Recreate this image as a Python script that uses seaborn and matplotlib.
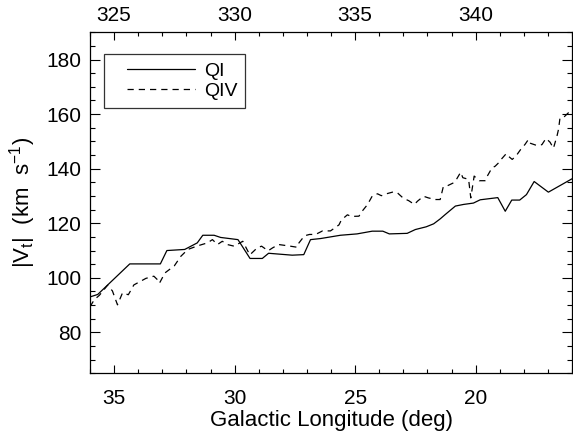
import numpy as np
import pandas as pd
import matplotlib
matplotlib.use("Agg")
import matplotlib.pyplot as plt
from matplotlib.ticker import MultipleLocator
from matplotlib.legend_handler import HandlerLine2D
import seaborn as sns

# Galactic longitude (deg) and tangent velocity |V_t| (km/s) for the two quadrants
l_qi = [36.0, 35.68, 34.35, 33.08, 32.81, 32.07, 31.55, 31.32, 30.85, 30.58,
        29.86, 29.36, 28.85, 28.59, 27.61, 27.13, 26.85, 26.43, 25.61, 24.92,
        24.29, 23.85, 23.58, 22.84, 22.50, 22.05, 21.74, 21.47, 21.26, 20.84,
        20.50, 20.09, 19.81, 19.08, 18.77, 18.50, 18.17, 17.89, 17.57, 16.98,
        16.0]
v_qi = [93.0, 93.9, 105.1, 105.1, 110.0, 110.4, 112.8, 115.6, 115.6, 114.8,
        114.0, 107.1, 107.1, 109.0, 108.3, 108.5, 114.0, 114.4, 115.6, 116.1,
        117.1, 117.1, 116.1, 116.3, 117.7, 118.7, 119.8, 121.6, 123.2, 126.3,
        126.9, 127.4, 128.6, 129.4, 124.4, 128.5, 128.5, 130.5, 135.3, 131.4,
        136.3]

l_qiv = [36.0, 35.82, 35.61, 35.27, 35.07, 34.86, 34.65, 34.41, 34.18, 33.68,
         33.35, 33.20, 33.12, 32.89, 32.50, 32.23, 31.94, 31.54, 31.13, 30.92,
         30.71, 30.51, 30.30, 30.02, 29.66, 29.37, 29.06, 28.88, 28.61, 28.42,
         28.17, 27.76, 27.40, 27.33, 27.10, 26.89, 26.64, 26.35, 26.02, 25.67,
         25.57, 25.32, 25.16, 24.84, 24.70, 24.49, 24.28, 24.07, 23.91, 23.70,
         23.41, 23.25, 22.99, 22.78, 22.54, 22.41, 22.16, 21.96, 21.67, 21.47,
         21.34, 21.18, 20.92, 20.78, 20.62, 20.53, 20.29, 20.20, 20.06, 19.85,
         19.60, 19.52, 19.32, 19.19, 19.04, 18.94, 18.73, 18.63, 18.48, 18.32,
         18.11, 17.95, 17.81, 17.72, 17.49, 17.25, 17.08, 16.91, 16.77, 16.62,
         16.56, 16.50, 16.35, 16.15, 16.0]
v_qiv = [89.4, 92.0, 93.6, 97.3, 95.2, 90.1, 94.5, 93.8, 97.4, 99.8,
         100.6, 99.3, 98.0, 101.8, 104.4, 107.9, 110.4, 111.7, 112.8, 114.0,
         112.2, 113.4, 112.2, 111.6, 113.4, 108.4, 111.0, 111.6, 109.9, 111.0,
         112.2, 111.7, 111.2, 112.8, 115.4, 115.9, 115.9, 117.2, 117.2, 119.4,
         121.2, 123.1, 122.5, 122.6, 124.5, 126.8, 130.1, 130.8, 130.1, 130.8,
         131.5, 131.2, 129.1, 128.3, 126.9, 128.1, 129.9, 129.3, 128.7, 128.7,
         133.4, 133.7, 134.8, 136.3, 138.7, 136.7, 136.1, 129.3, 137.3, 135.6,
         135.6, 137.2, 140.3, 140.9, 142.2, 143.4, 145.5, 144.5, 143.4, 144.7,
         147.3, 148.9, 150.7, 149.3, 148.6, 148.8, 151.1, 149.7, 147.5, 152.1,
         154.4, 158.5, 158.8, 160.5, 161.8]

quadrants = ["QI", "QIV"]

df = pd.concat([
    pd.DataFrame({"l": l_qi, "v": v_qi, "quad": quadrants[0]}),
    pd.DataFrame({"l": l_qiv, "v": v_qiv, "quad": quadrants[1]}),
], ignore_index=True)

sns.set_style("white")
plt.rcParams["font.family"] = ["Liberation Sans", "DejaVu Sans"]
plt.rcParams["mathtext.fontset"] = "custom"
plt.rcParams["mathtext.rm"] = "Liberation Sans"
plt.rcParams["mathtext.it"] = "Liberation Sans"
for key in ["text.color", "axes.labelcolor", "xtick.color", "ytick.color",
            "axes.edgecolor"]:
    plt.rcParams[key] = "black"

fig = plt.figure(figsize=(5.73, 4.34), dpi=100)
ax = fig.add_axes([90 / 573, 1 - 373.3 / 434, 482 / 573, 341 / 434])

sns.lineplot(data=df, x="l", y="v", hue="quad", style="quad",
             palette={"QI": "black", "QIV": "black"},
             dashes={"QI": "", "QIV": (5, 4)},
             estimator=None, sort=False, lw=0.9, ax=ax, legend=True)

ax.set_xlim(36, 16)
ax.set_ylim(65, 190)

ax.xaxis.set_major_locator(MultipleLocator(5))
ax.xaxis.set_minor_locator(MultipleLocator(1))
ax.yaxis.set_major_locator(MultipleLocator(20))
ax.yaxis.set_minor_locator(MultipleLocator(5))

fs = 15
ax.tick_params(axis="x", which="both", direction="in", top=False, bottom=True,
               labelsize=fs, pad=11, width=0.8, color="black")
ax.tick_params(axis="x", which="major", length=6)
ax.tick_params(axis="x", which="minor", length=3)
ax.tick_params(axis="y", which="both", direction="in", left=True, right=True,
               labelsize=fs, pad=6, width=0.8, color="black")
ax.tick_params(axis="y", which="major", length=7)
ax.tick_params(axis="y", which="minor", length=3.5)

for sp in ax.spines.values():
    sp.set_color("black")
    sp.set_linewidth(0.9)

ax.set_xlabel("Galactic Longitude (deg)", fontsize=16, labelpad=2)
ax.set_ylabel(r"|V$_\mathrm{t}$|  (km  s$^{-1}$)", fontsize=16, labelpad=6)

# upper axis in 360 - l
ax2 = ax.twiny()
ax2.set_xlim(360 - 36, 360 - 16)
ax2.xaxis.set_major_locator(MultipleLocator(5))
ax2.xaxis.set_minor_locator(MultipleLocator(1))
ax2.tick_params(axis="x", which="both", direction="in", labelsize=fs, pad=5,
                width=0.8, color="black")
ax2.tick_params(axis="x", which="major", length=6)
ax2.tick_params(axis="x", which="minor", length=3)
for sp in ax2.spines.values():
    sp.set_visible(False)

handles, labels = ax.get_legend_handles_labels()
leg = ax.legend(handles, labels, loc="upper left",
                bbox_to_anchor=(0.029, 0.936), borderaxespad=0,
                fontsize=14, frameon=True, fancybox=False, edgecolor="black",
                handlelength=4.3, handletextpad=0.45, labelspacing=0.15,
                borderpad=0.4,
                handler_map={h: HandlerLine2D(xpad=0.8) for h in handles})
leg.get_frame().set_linewidth(0.9)
for h in leg.get_lines():
    h.set_linewidth(0.9)

fig.savefig("out.png", dpi=100, facecolor="white")
